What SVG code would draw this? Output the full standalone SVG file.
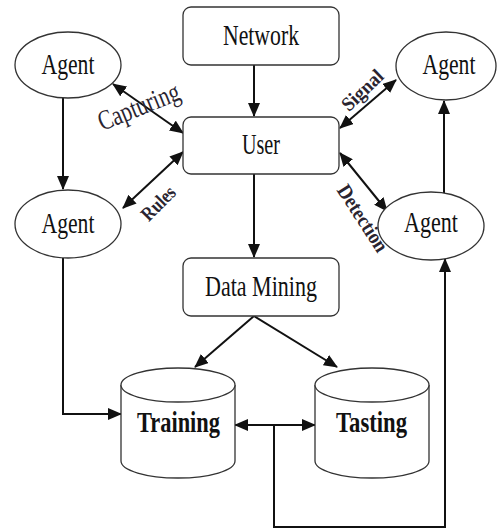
<svg xmlns="http://www.w3.org/2000/svg" width="497" height="529" viewBox="0 0 497 529">
  <style>
    .box { fill: #ffffff; stroke: #333333; stroke-width: 1.3; }
    .lbl { font-family: "Liberation Serif", "Times New Roman", serif; font-size: 30px; fill: #111111; text-anchor: middle; }
    .db { font-family: "Liberation Serif", "Times New Roman", serif; font-size: 29px; font-weight: bold; fill: #111111; text-anchor: middle; }
    .edge { font-family: "Liberation Serif", "Times New Roman", serif; fill: #2a2430; text-anchor: middle; }
    .conn { fill: none; stroke: #111111; stroke-width: 2; }
  </style>
  <defs>
    <marker id="head" markerUnits="userSpaceOnUse" markerWidth="14" markerHeight="12" refX="13" refY="6" orient="auto-start-reverse">
      <path d="M0,0 L14,6 L0,12 Z" fill="#111111"/>
    </marker>
  </defs>

  <rect width="497" height="529" fill="#ffffff"/>

  <!-- connectors -->
  <g id="connectors">
    <line class="conn" x1="254" y1="65" x2="254" y2="116" marker-end="url(#head)"/>
    <line class="conn" x1="254" y1="174" x2="254" y2="257" marker-end="url(#head)"/>
    <line class="conn" x1="63" y1="98" x2="63" y2="189" marker-end="url(#head)"/>
    <line class="conn" x1="113" y1="84" x2="183" y2="133" marker-start="url(#head)" marker-end="url(#head)"/>
    <line class="conn" x1="123" y1="208" x2="183" y2="152" marker-start="url(#head)" marker-end="url(#head)"/>
    <line class="conn" x1="340" y1="128" x2="396" y2="80" marker-start="url(#head)" marker-end="url(#head)"/>
    <line class="conn" x1="340" y1="153" x2="387" y2="211" marker-start="url(#head)" marker-end="url(#head)"/>
    <line class="conn" x1="444" y1="193" x2="444" y2="101" marker-end="url(#head)"/>
    <line class="conn" x1="254" y1="316" x2="195" y2="367" marker-end="url(#head)"/>
    <line class="conn" x1="254" y1="316" x2="337" y2="367" marker-end="url(#head)"/>
    <path class="conn" d="M63,258 V414 H121" marker-end="url(#head)"/>
    <line class="conn" x1="235" y1="425" x2="315" y2="425" marker-start="url(#head)" marker-end="url(#head)"/>
    <path class="conn" d="M274,425 V527 H445 V259" marker-end="url(#head)"/>

    <!-- edge labels -->
    <text class="edge" font-size="28" fill="#333333" transform="translate(142,115) rotate(-22)" textLength="86" lengthAdjust="spacingAndGlyphs">Capturing</text>
    <text class="edge" font-size="20" font-weight="bold" transform="translate(163,208) rotate(-45)" textLength="40" lengthAdjust="spacingAndGlyphs">Rules</text>
    <text class="edge" font-size="20" font-weight="bold" transform="translate(367,95) rotate(-44)" textLength="50" lengthAdjust="spacingAndGlyphs">Signal</text>
    <text class="edge" font-size="21" font-weight="bold" transform="translate(357,222) rotate(57)" textLength="76" lengthAdjust="spacingAndGlyphs">Detection</text>
  </g>

  <!-- nodes -->
  <g id="network">
    <rect class="box" x="183" y="7" width="156" height="58" rx="8"/>
    <text class="lbl" x="261" y="45" textLength="76" lengthAdjust="spacingAndGlyphs">Network</text>
  </g>
  <g id="user">
    <rect class="box" x="183" y="117" width="156" height="57" rx="8"/>
    <text class="lbl" x="261" y="154" textLength="38" lengthAdjust="spacingAndGlyphs">User</text>
  </g>
  <g id="data-mining">
    <rect class="box" x="183" y="258" width="156" height="58" rx="8"/>
    <text class="lbl" x="261" y="296" textLength="112" lengthAdjust="spacingAndGlyphs">Data Mining</text>
  </g>
  <g id="agent-top-left">
    <ellipse class="box" cx="68" cy="65" rx="53" ry="33"/>
    <text class="lbl" x="68" y="74" textLength="53" lengthAdjust="spacingAndGlyphs">Agent</text>
  </g>
  <g id="agent-mid-left">
    <ellipse class="box" cx="68" cy="224" rx="53" ry="34"/>
    <text class="lbl" x="68" y="233" textLength="53" lengthAdjust="spacingAndGlyphs">Agent</text>
  </g>
  <g id="agent-top-right">
    <ellipse class="box" cx="446" cy="66" rx="50" ry="34"/>
    <text class="lbl" x="449" y="74" textLength="53" lengthAdjust="spacingAndGlyphs">Agent</text>
  </g>
  <g id="agent-mid-right">
    <ellipse class="box" cx="431" cy="226" rx="53" ry="34"/>
    <text class="lbl" x="431" y="232" textLength="54" lengthAdjust="spacingAndGlyphs">Agent</text>
  </g>
  <g id="training">
    <path class="box" d="M121,385 V461 A57,17 0 0 0 235,461 V385"/>
    <ellipse class="box" cx="178" cy="385" rx="57" ry="17"/>
    <text class="db" x="178.5" y="432" textLength="83" lengthAdjust="spacingAndGlyphs">Training</text>
  </g>
  <g id="tasting">
    <path class="box" d="M315,385 V461 A57,17 0 0 0 429,461 V385"/>
    <ellipse class="box" cx="372" cy="385" rx="57" ry="17"/>
    <text class="db" x="371.5" y="432" textLength="71" lengthAdjust="spacingAndGlyphs">Tasting</text>
  </g>
</svg>
